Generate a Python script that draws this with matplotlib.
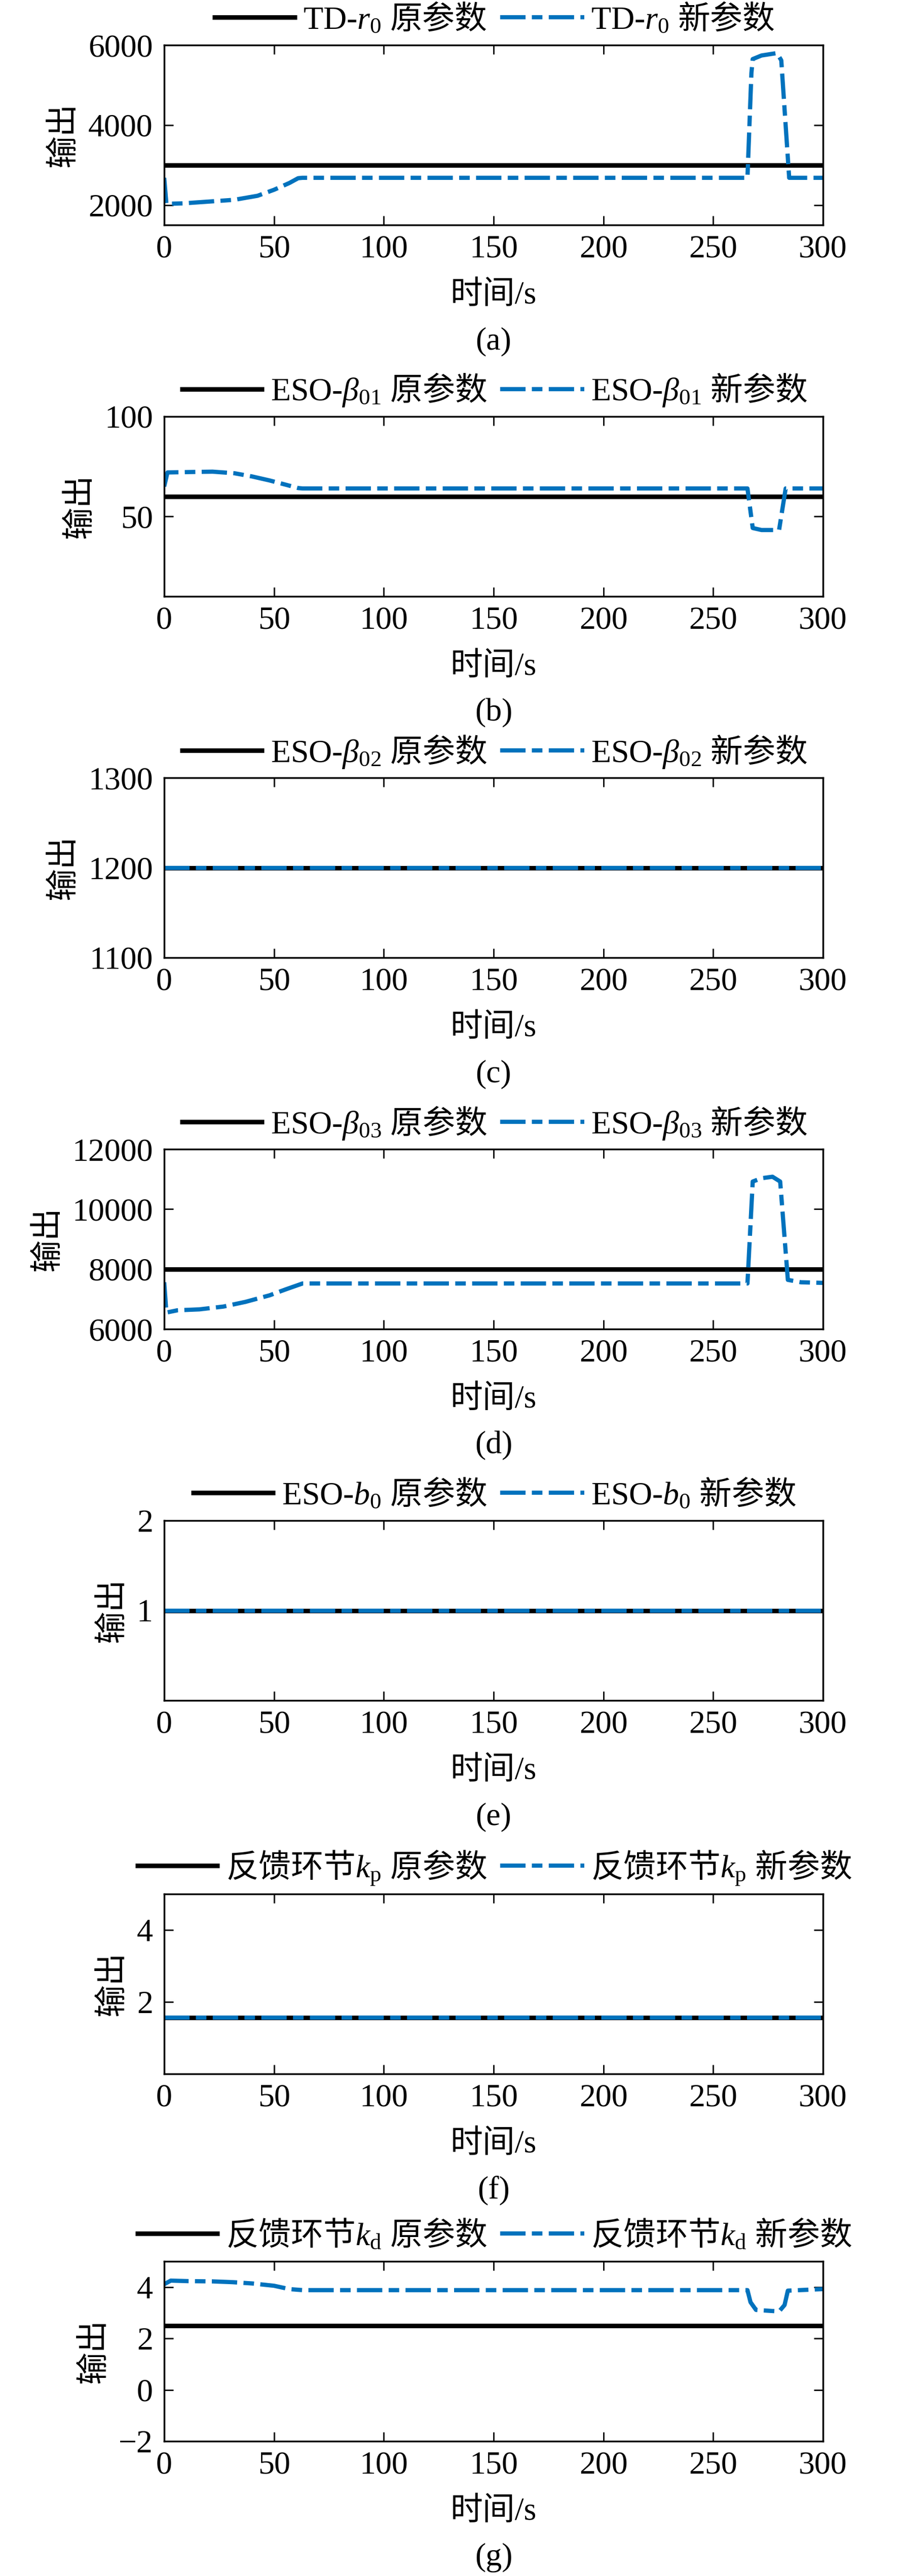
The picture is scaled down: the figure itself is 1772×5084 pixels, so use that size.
import matplotlib.pyplot as plt

plt.rcParams['font.family'] = ['Liberation Serif', 'Noto Sans CJK SC']
plt.rcParams['mathtext.fontset'] = 'custom'
plt.rcParams['mathtext.rm'] = 'Liberation Serif'
plt.rcParams['mathtext.it'] = 'Liberation Serif:italic'
plt.rcParams['mathtext.sf'] = 'Noto Sans CJK SC'
plt.rcParams['axes.unicode_minus'] = True

time_span = [0, 300]

# (a) TD-r0
a_old = 3000
a_t = [0, 1, 8.6, 21.6, 32, 42.5, 50, 57, 61, 63, 265.6, 267.4, 268, 272, 279, 281, 284.6, 300]
a_new = [2680, 2030, 2040, 2090, 2130, 2230, 2380, 2550, 2670, 2680, 2680, 5300, 5650, 5740, 5800, 5620, 2680, 2680]

# (b) ESO-beta01
b_old = 60
b_t = [0, 1.5, 11, 22, 32, 40, 48, 55.6, 61, 63, 265.6, 268, 272, 280, 283, 300]
b_new = [65, 72, 72.2, 72.4, 71.6, 70, 68, 65.8, 64.2, 64, 64, 44.2, 43.2, 43.2, 64, 64]

# (c) ESO-beta02
c_old = 1200
c_t = [0, 300]
c_new = [1200, 1200]

# (d) ESO-beta03
d_old = 8000
d_t = [0, 1, 6, 16, 27, 37, 48, 55.6, 63, 265.6, 268, 272, 277, 280.5, 284, 290, 300]
d_new = [7560, 6550, 6625, 6656, 6750, 6906, 7125, 7330, 7520, 7520, 10920, 11030, 11080, 10920, 7640, 7560, 7540]

# (e) ESO-b0
e_old = 1
e_t = [0, 300]
e_new = [1, 1]

# (f) kp
f_old = 1.57
f_t = [0, 300]
f_new = [1.57, 1.57]

# (g) kd
g_old = 2.5
g_t = [0, 3, 11, 22, 31, 40, 50, 57, 63, 265.6, 267, 269.5, 280, 282.5, 284, 300]
g_new = [4.11, 4.25, 4.23, 4.22, 4.19, 4.14, 4.05, 3.92, 3.88, 3.88, 3.41, 3.11, 3.05, 3.3, 3.86, 3.92]

# legend name parts (CJK goes through \mathsf -> Noto Sans CJK)
names = ['TD-$r_0$', 'ESO-$\\beta_{01}$', 'ESO-$\\beta_{02}$', 'ESO-$\\beta_{03}$',
         'ESO-$b_0$', '$\\mathsf{反馈环节}k_\\mathrm{p}$', '$\\mathsf{反馈环节}k_\\mathrm{d}$']
old_txt = ' $\\mathsf{原参数}$'
new_txt = ' $\\mathsf{新参数}$'
captions = ['(a)', '(b)', '(c)', '(d)', '(e)', '(f)', '(g)']
ylims = [(1500, 6000), (10, 100), (1100, 1300), (6000, 12000), (0, 2), (0, 5), (-2, 5)]
yticks = [[2000, 4000, 6000], [50, 100], [1100, 1200, 1300], [6000, 8000, 10000, 12000],
          [1, 2], [2, 4], [-2, 0, 2, 4]]
olds = [a_old, b_old, c_old, d_old, e_old, f_old, g_old]
news = [(a_t, a_new), (b_t, b_new), (c_t, c_new), (d_t, d_new), (e_t, e_new), (f_t, f_new), (g_t, g_new)]

W, H = 1772, 5084
fig = plt.figure(figsize=(W / 100, H / 100), dpi=100)
tops = [89, 822, 1535, 2268, 3001, 3738, 4463]
ax_h = 355
ax_l, ax_w = 324, 1300
fs = 46
blue = '#0072BD'

for i in range(7):
    ax = fig.add_axes([ax_l / W, 1 - (tops[i] + ax_h) / H, ax_w / W, ax_h / H])
    ax.plot(time_span, [olds[i], olds[i]], color='k', lw=6.5, solid_capstyle='butt',
            label=names[i] + old_txt)
    t, v = news[i]
    ax.plot(t, v, color=blue, lw=6, linestyle=(0, (6, 1.5, 2.5, 1.5)),
            dash_capstyle='butt', label=names[i] + new_txt)
    ax.set_xlim(0, 300)
    ax.set_ylim(*ylims[i])
    ax.set_xticks([0, 50, 100, 150, 200, 250, 300])
    ax.set_yticks(yticks[i])
    ax.tick_params(direction='in', top=True, right=True, length=13, width=2, labelsize=fs)
    ax.tick_params(axis='x', pad=14)
    ax.tick_params(axis='y', pad=16)
    for s in ax.spines.values():
        s.set_linewidth(2.5)
    ax.set_ylabel('输出', fontsize=fs, labelpad=12)
    ax.set_xlabel('时间/s', fontsize=fs, va='center')
    ax.xaxis.set_label_coords(0.5, -140 / ax_h)
    ax.legend(loc='center', bbox_to_anchor=(0.5, 1 + 52 / ax_h), ncol=2, frameon=False,
              fontsize=fs, handlelength=2.6, handletextpad=0.2, columnspacing=0.4,
              borderpad=0, borderaxespad=0)
    fig.text((ax_l + ax_w / 2) / W, 1 - (tops[i] + ax_h + 230) / H, captions[i],
             ha='center', va='center', fontsize=fs)

fig.savefig('out.png', dpi=100)
